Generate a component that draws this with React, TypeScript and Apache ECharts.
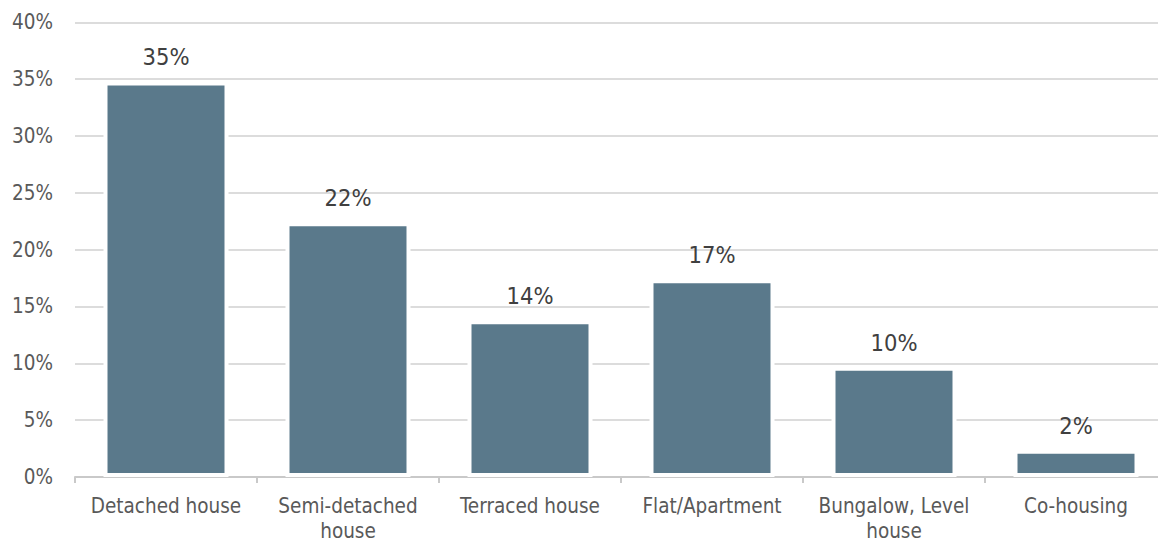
import React, { useEffect, useRef } from "react";
import * as echarts from "echarts";

const categories = [
  "Detached house",
  "Semi-detached\nhouse",
  "Terraced house",
  "Flat/Apartment",
  "Bungalow, Level\nhouse",
  "Co-housing",
];
const values = [34.8, 22.4, 13.8, 17.4, 9.7, 2.4];
const yTicks = [0, 5, 10, 15, 20, 25, 30, 35, 40];

const FONT = "'DejaVu Sans Condensed', 'DejaVu Sans', sans-serif";

export default function App() {
  const ref = useRef<HTMLDivElement>(null);
  useEffect(() => {
    document.body.style.margin = "0";
    const chart = echarts.init(ref.current!, null, { renderer: "svg" });
    chart.setOption({
      animation: false,
      backgroundColor: "#ffffff",
      textStyle: { fontFamily: FONT },
      grid: { left: 75, top: 22.3, width: 1092, height: 456, containLabel: false },
      xAxis: {
        type: "category",
        data: categories,
        axisLine: { lineStyle: { color: "#c9c9c9", width: 2 } },
        axisTick: { show: true, length: 6, lineStyle: { color: "#c9c9c9", width: 2 } },
        axisLabel: {
          color: "#595959",
          fontFamily: FONT,
          fontSize: 20.5,
          lineHeight: 25,
          margin: 16,
          interval: 0,
        },
      },
      yAxis: {
        type: "value",
        min: yTicks[0],
        max: yTicks[yTicks.length - 1],
        interval: 5,
        axisLine: { show: false },
        axisTick: { show: false },
        axisLabel: {
          color: "#595959",
          fontFamily: FONT,
          fontSize: 20.5,
          margin: 22,
          formatter: (v: number) => v + "%",
        },
        splitLine: { lineStyle: { color: "#dcdcdc", width: 2 } },
      },
      series: [
        {
          type: "bar",
          data: values,
          barWidth: 125,
          itemStyle: { color: "#5a798b", borderColor: "#ffffff", borderWidth: 4 },
          label: {
            show: true,
            position: "top",
            distance: 12,
            color: "#404040",
            fontFamily: FONT,
            fontSize: 23.5,
            formatter: (p: any) => Math.round(p.value) + "%",
          },
        },
      ],
    });
    return () => chart.dispose();
  }, []);
  return (
    <div
      style={{
        position: "absolute",
        left: 0,
        top: 0,
        width: 1158,
        height: 543,
        overflow: "hidden",
        background: "#ffffff",
      }}
    >
      <div ref={ref} style={{ width: 1180, height: 543 }} />
    </div>
  );
}
